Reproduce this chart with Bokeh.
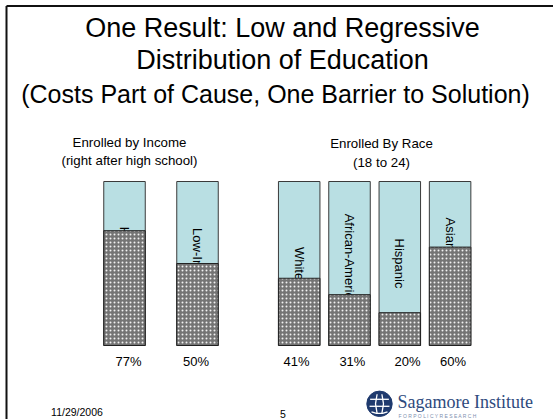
import math
from bokeh.plotting import figure
from bokeh.models import Range1d, Label, InlineStyleSheet
from bokeh.core.properties import value
from bokeh.embed import file_html
from bokeh.resources import INLINE

# ---------------- data ----------------
title_lines = ["One Result: Low and Regressive",
               "Distribution of Education",
               "(Costs Part of Cause, One Barrier to Solution)"]
income_title = ["Enrolled by Income", "(right after high school)"]
race_title = ["Enrolled By Race", "(18 to 24)"]

income_cats = ["High-Income", "Low-Income"]
income_bar = [70, 50]            # dark part as drawn on the slide
income_label = ["77%", "50%"]

race_cats = ["White", "African-American", "Hispanic", "Asian-American"]
race_bar = [41, 31, 20, 60]
race_label = ["41%", "31%", "20%", "60%"]

footer_date = "11/29/2006"
slide_no = "5"
logo_name = "Sagamore Institute"
logo_tag = "FOR POLICY RESEARCH"

# ---------------- layout ----------------
W, H = 553, 419
BAR_BOTTOM, BAR_TOP = 345.0, 181.0
PX = (BAR_BOTTOM - BAR_TOP) / 100.0


def Y(py):
    """page pixel row -> data y (percent scale)"""
    return (BAR_BOTTOM - py) / PX


FONT = "Liberation Sans"
LIGHT = "#b9dfe3"
BAR_W = 41.5

p = figure(width=W, height=H, x_range=Range1d(0, W), y_range=Range1d(Y(H), Y(0)),
           output_backend="svg", toolbar_location=None, min_border=0,
           styles={"vertical-align": "top"})
p.stylesheets = [InlineStyleSheet(css=".bk-Canvas, .bk-layer { overflow: hidden; }")]
p.axis.visible = False
p.grid.visible = False
p.outline_line_color = None
p.background_fill_color = "white"
p.border_fill_color = "white"

# slide border (left and top)
p.segment(x0=[6, 6], y0=[Y(5.5), Y(5.5)], x1=[6, W], y1=[Y(H), Y(5.5)],
          line_color="#111111", line_width=2)


def label(txt, x, yc, size, align="center", font=FONT, color="black"):
    p.add_layout(Label(x=x, y=Y(yc), text=txt, text_align=align,
                       text_baseline="middle", text_font=font,
                       text_font_size=f"{size}px", text_color=color))


# titles (y = visual centre of the line)
for txt, cx, yc, fs in zip(title_lines, [282, 282, 275], [27.0, 59.6, 93.7], [27, 27, 25]):
    label(txt, cx, yc, fs)

for lines, cx, ycs in [(income_title, 129, [142.2, 160.2]), (race_title, 381, [143.2, 162.2])]:
    for txt, yc in zip(lines, ycs):
        label(txt, cx, yc, 13.3)

# bar positions
income_x = [124 + 73.0 * i for i in range(len(income_cats))]
race_x = [298.7 + 50.3 * i for i in range(len(race_cats))]
xs = income_x + race_x
cats = income_cats + race_cats
vals = income_bar + race_bar
labels = income_label + race_label
nudge = [4, -1.5, -2.7, 2.9, 7.8, 3]

# light (full) bars
p.vbar(x=xs, top=100, bottom=0, width=BAR_W, fill_color=LIGHT,
       line_color="#3a3a3a", line_width=1)
# category names, rotated, partly covered by the dark part
p.text(x=xs, y=50, text=cats, angle=-math.pi / 2, text_align="center",
       text_baseline="middle", text_font=value(FONT), text_font_size="13px",
       text_color="black")
# dark (enrolled) bars
p.vbar(x=xs, top=vals, bottom=0, width=BAR_W, fill_color="#747474",
       hatch_pattern="dot", hatch_color="white", hatch_scale=4, hatch_weight=1.2,
       hatch_alpha=0.9, line_color="#222222", line_width=1)

# percentage labels
p.text(x=[x + d for x, d in zip(xs, nudge)], y=Y(361.3), text=labels,
       text_align="center", text_baseline="middle", text_font=value(FONT),
       text_font_size="13px", text_color="black")

# footer
label(footer_date, 76.5, 411.5, 10.5)
label(slide_no, 282.5, 413.0, 10.5)

# logo
cx, cy, r = 379, 403.3, 12.7
NAVY = "#1f3a6e"
p.circle(x=[cx], y=[Y(cy)], radius=r, radius_units="screen",
         fill_color=NAVY, line_color=NAVY)
gl_x, gl_y = [], []
for dy in [-4.5, 2.5]:
    half = math.sqrt(max(r * r - dy * dy, 0)) - 2.5
    gl_x.append([cx - half, cx + half])
    gl_y.append([Y(cy + dy), Y(cy + dy)])
for dx in [-4.0, 4.0]:
    half = math.sqrt(max(r * r - dx * dx, 0)) - 2.5
    gl_x.append([cx + dx * 0.6, cx + dx, cx + dx * 0.6])
    gl_y.append([Y(cy - half), Y(cy), Y(cy + half)])
gl_x.append([cx - 8, cx - 3, cx + 3, cx + 8])
gl_y.append([Y(cy + 8), Y(cy + 9.5), Y(cy + 9.5), Y(cy + 8)])
p.multi_line(xs=gl_x, ys=gl_y, line_color="white", line_width=1.3)

label(logo_name, 397, 401.0, 18, align="left", font="Liberation Serif", color="#2e4a7d")
label("  ".join(" ".join(w) for w in logo_tag.split()), 398, 415.0, 5,
      align="left", color="#8090b0")

open("out.html", "w").write(file_html(p, INLINE))
